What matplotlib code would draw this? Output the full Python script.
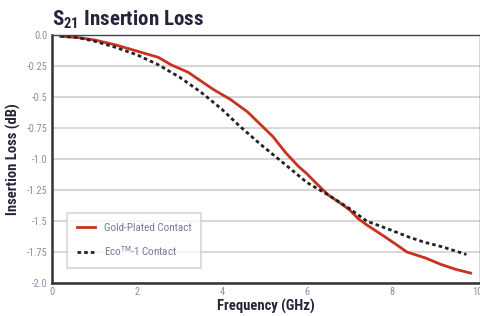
import matplotlib
matplotlib.use("Agg")
import matplotlib.pyplot as plt

plt.rcParams['font.family'] = ['Roboto Condensed', 'Liberation Sans Narrow', 'Liberation Sans', 'DejaVu Sans']

# frequency (GHz) and insertion loss (dB)
gold_f = [0.2, 0.6, 1.0, 1.5, 2.0, 2.5, 2.8, 3.2, 3.5, 3.8, 4.2, 4.6, 4.9, 5.2, 5.5, 5.8, 6.0, 6.2, 6.5, 6.8, 7.0, 7.2, 7.4, 7.8, 8.1, 8.35, 8.8, 9.15, 9.5, 9.85]
gold_l = [-0.01, -0.02, -0.04, -0.08, -0.13, -0.18, -0.24, -0.30, -0.37, -0.44, -0.52, -0.62, -0.72, -0.82, -0.95, -1.06, -1.12, -1.19, -1.29, -1.36, -1.41, -1.48, -1.53, -1.62, -1.69, -1.75, -1.80, -1.85, -1.89, -1.92]
eco_f = [0.2, 0.6, 1.0, 1.5, 2.0, 2.5, 3.0, 3.5, 4.0, 4.4, 4.9, 5.4, 6.0, 6.5, 7.0, 7.4, 7.95, 8.4, 8.75, 9.2, 9.75]
eco_l = [-0.01, -0.02, -0.05, -0.10, -0.16, -0.24, -0.34, -0.46, -0.60, -0.73, -0.88, -1.02, -1.19, -1.29, -1.40, -1.50, -1.57, -1.63, -1.67, -1.71, -1.77]
yticks = [0.0, -0.25, -0.5, -0.75, -1.0, -1.25, -1.5, -1.75, -2.0]
ytick_labels = ['0.0', '-0.25', '-0.5', '-0.75', '-1.0', '-1.25', '-1.5', '-1.75', '-2.0']
xticks = [0, 2, 4, 6, 8, 10]

tick_col = '#8a8fa8'
text_col = '#23253a'

fig = plt.figure(figsize=(4.81, 3.16), dpi=100)
ax = fig.add_axes([52/481, 1 - 283/316, 428/481, 248/316])

ax.plot(gold_f, gold_l, color='#c8321e', lw=2.0, label='Gold-Plated Contact')
ax.plot(eco_f, eco_l, color='#222222', lw=2.0, ls=(0, (1.3, 1.1)), label='Eco$^{\\mathregular{TM}}$-1 Contact')

ax.set_xlim(0, 10.07)
ax.set_ylim(-2.0, 0.0)
ax.set_yticks(yticks)
ax.set_yticklabels(ytick_labels)
ax.set_xticks(xticks)
ax.yaxis.grid(True, color='#d0d0d0', lw=1.2)
ax.set_axisbelow(True)
ax.tick_params(length=0, labelsize=7.5, colors=tick_col, pad=3)

for s in ['left', 'bottom']:
    ax.spines[s].set_linewidth(1.8)
    ax.spines[s].set_color('#333333')
for s in ['top', 'right']:
    ax.spines[s].set_linewidth(1.0)
    ax.spines[s].set_color('#444444')

ax.set_xlabel('Frequency (GHz)', fontsize=10.5, fontweight='bold', color=text_col, labelpad=1.5)
ax.set_ylabel('Insertion Loss (dB)', fontsize=10.5, fontweight='bold', color=text_col, labelpad=4)

fig.text(52/481, 1 - 20/316, 'S$_{\\mathregular{21}}$ Insertion Loss', fontsize=15, fontweight='bold',
         color=text_col, va='center', ha='left')

leg = ax.legend(loc='lower left', bbox_to_anchor=(0.035, 0.06), borderaxespad=0, fontsize=8,
                frameon=True, fancybox=False, edgecolor='#cccccc', handlelength=1.6,
                borderpad=0.9, labelspacing=1.0, labelcolor='#7b7a99')
leg.get_frame().set_linewidth(1.2)

fig.savefig('out.png', dpi=100)
